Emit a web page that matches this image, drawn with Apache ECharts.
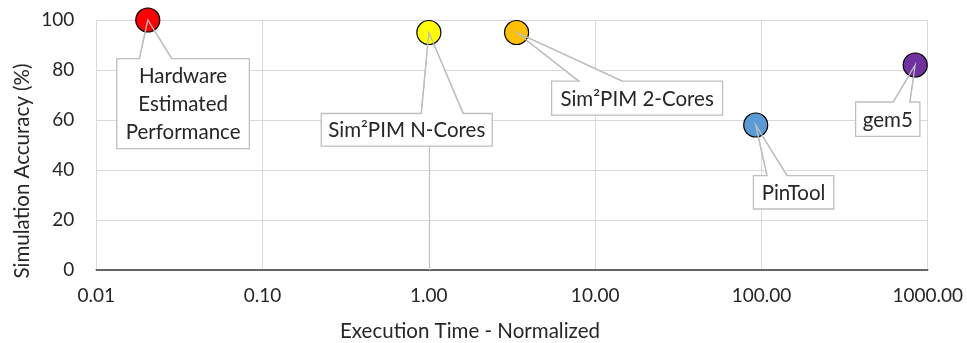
<!DOCTYPE html>
<html><head><meta charset="utf-8">
<script src="https://cdn.jsdelivr.net/npm/echarts@6/dist/echarts.min.js"></script>
<style>html,body{margin:0;padding:0;background:#fff}#chart{width:967px;height:343px}</style>
</head><body><div id="chart"></div>
<script>
// Simulators: normalized execution time against simulation accuracy
const toolNames = ['Hardware\nEstimated\nPerformance', 'Sim²PIM N-Cores', 'Sim²PIM 2-Cores', 'PinTool', 'gem5'];
const executionTime = [0.0204, 1.0, 3.37, 92.4, 841];
const accuracy = [100, 95, 95, 58, 82];
const xRange = [0.01, 1000];
const yRange = [0, 100];
const yStep = 20;
const axisCrossX = 1; // the value axis crosses the log axis at 1

const pointColors = ['#FF0000', '#FFFF00', '#FFC000', '#5B9BD5', '#7030A0'];
// callout box relative to its point: left, right, top, bottom, wedge base left, wedge base right
const calloutLayout = [
  [-31, 101.6, 38.7, 128.7, -8.4, 24],
  [-107.6, 63.4, 81, 113.7, -7.6, 34.4],
  [35, 206, 48.7, 82.7, 62.3, 105.7],
  [-2.3, 78, 50.7, 84, 11.3, 31.3],
  [-59.6, 4.7, 37, 71.4, -22, -5.3]
];

const FONT = 'Lato';
const TEXT = '#262626';
const BORDER = '#bfbfbf';

const points = executionTime.map((x, i) => [x, accuracy[i], i]);

function calloutBox(params, api) {
  const i = api.value(2);
  const p = api.coord([api.value(0), api.value(1)]);
  const [l, r, t, b, wl, wr] = calloutLayout[i];
  const X = v => p[0] + v, Y = v => p[1] + v;
  return {
    type: 'group',
    children: [
      {
        type: 'polygon',
        shape: { points: [[X(l), Y(t)], [X(wl), Y(t)], [p[0], p[1]], [X(wr), Y(t)], [X(r), Y(t)], [X(r), Y(b)], [X(l), Y(b)]] },
        style: { fill: '#fff', stroke: BORDER, lineWidth: 1.3 }
      },
      {
        type: 'text',
        style: {
          text: toolNames[i], x: X((l + r) / 2), y: Y((t + b) / 2) + 1,
          align: 'center', verticalAlign: 'middle',
          fill: TEXT, fontSize: 20.5, fontFamily: FONT, lineHeight: 28
        }
      }
    ]
  };
}

function calloutPointer(params, api) {
  const i = api.value(2);
  const p = api.coord([api.value(0), api.value(1)]);
  const [l, r, t, b, wl, wr] = calloutLayout[i];
  return {
    type: 'polyline',
    shape: { points: [[p[0] + wl, p[1] + t], [p[0], p[1]], [p[0] + wr, p[1] + t]] },
    style: { fill: null, stroke: BORDER, lineWidth: 1.3 }
  };
}

const chart = echarts.init(document.getElementById('chart'), null, { renderer: 'canvas' });
chart.setOption({
  animation: false,
  backgroundColor: '#fff',
  grid: { left: 96.3, right: 39.3, top: 20, bottom: 73, containLabel: false },
  xAxis: {
    type: 'log', logBase: 10, min: xRange[0], max: xRange[1],
    axisLine: { show: true, onZero: false, lineStyle: { color: '#3a3a3a', width: 1.6 } },
    axisTick: { show: false },
    splitLine: { show: true, lineStyle: { color: '#d9d9d9', width: 1 } },
    axisLabel: { margin: 16, color: TEXT, fontSize: 19, fontFamily: FONT, formatter: v => Number(v).toFixed(2) }
  },
  yAxis: {
    type: 'value', min: yRange[0], max: yRange[1], interval: yStep,
    axisLine: { show: false }, axisTick: { show: false },
    splitLine: { show: true, lineStyle: { color: '#d9d9d9', width: 1 } },
    axisLabel: { margin: 22, color: TEXT, fontSize: 19, fontFamily: FONT }
  },
  graphic: [
    { type: 'text', x: 22, y: 171, rotation: Math.PI / 2,
      style: { text: 'Simulation Accuracy (%)', align: 'center', verticalAlign: 'middle', fill: TEXT, fontSize: 20.5, fontFamily: FONT } },
    { type: 'text', x: 470, y: 331.5,
      style: { text: 'Execution Time - Normalized', align: 'center', verticalAlign: 'middle', fill: TEXT, fontSize: 20.5, fontFamily: FONT } }
  ],
  series: [
    {
      type: 'scatter', z: 1, silent: true, data: [],
      markLine: {
        z: 1, silent: true, symbol: 'none', label: { show: false },
        lineStyle: { color: '#c4c4c4', type: 'solid', width: 1.3 },
        data: [{ xAxis: axisCrossX }]
      }
    },
    {
      type: 'custom', z: 3, silent: true, renderItem: calloutBox,
      encode: { x: 0, y: 1 }, data: points
    },
    {
      type: 'scatter', z: 4, silent: true, symbol: 'circle', symbolSize: 24,
      data: points.map((d, i) => ({
        value: [d[0], d[1]],
        itemStyle: { color: pointColors[i], opacity: 1, borderColor: '#000', borderWidth: 1.2 }
      }))
    },
    {
      type: 'custom', z: 5, silent: true, renderItem: calloutPointer,
      encode: { x: 0, y: 1 }, data: points
    }
  ]
});
</script>
</body></html>
